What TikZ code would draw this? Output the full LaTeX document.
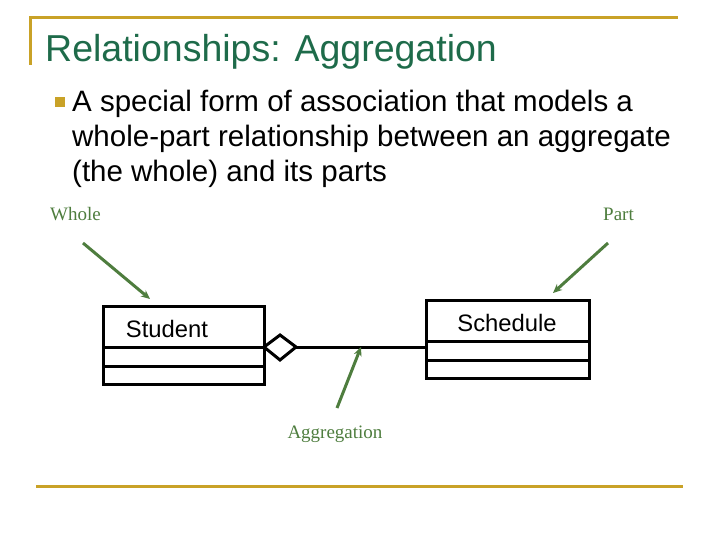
\documentclass[tikz,border=0pt]{standalone}
\usepackage{fontspec}
\setmainfont{Liberation Serif}
\newfontfamily\arialfont{Liberation Sans}
\usetikzlibrary{arrows.meta}
\definecolor{gold}{HTML}{C9A227}
\definecolor{titlegreen}{HTML}{1E6B4A}
\definecolor{labelgreen}{HTML}{4E7D3E}
\tikzset{
  rule/.style={draw=gold, line width=3pt},
  cls/.style={draw=black, line width=3pt},
  pointer/.style={draw=labelgreen, line width=3pt, -{Stealth[length=9pt,width=8pt]}},
  lbl/.style={text=labelgreen, font=\fontsize{19}{21}\selectfont, inner sep=0pt},
  bodytext/.style={anchor=base west, inner sep=0pt, font=\arialfont\fontsize{29.5}{35}\selectfont},
  clsname/.style={font=\arialfont\fontsize{23.8}{26}\selectfont},
}
\begin{document}
\begin{tikzpicture}[x=1pt,y=-1pt]
\useasboundingbox (0,0) rectangle (720,540);
% frame rules
\draw[rule] (30,65) -- (30,18) -- (678,18);
\draw[rule] (36,486) -- (683,486);
% title
\node[anchor=base west, inner sep=0pt, text=titlegreen, font=\arialfont\fontsize{37.5}{40}\selectfont] (title) at (45,62) {Relationships: Aggregation};
% bullet
\node[fill=gold, minimum size=10pt, inner sep=0pt, anchor=center] (bullet) at (60,102) {};
\node[bodytext] (body1) at (72,112) {A special form of association that models a};
\node[bodytext] (body2) at (72,147) {whole-part relationship between an aggregate};
\node[bodytext] (body3) at (72,182) {(the whole) and its parts};
% classes
\draw[cls] (103,306) rectangle (264,384);
\draw[cls] (103,347) -- (264,347);
\draw[cls] (103,366) -- (264,366);
\node[clsname] (student) at (167,329) {Student};
\draw[cls] (426,300) rectangle (589,378);
\draw[cls] (426,341) -- (589,341);
\draw[cls] (426,360) -- (589,360);
\node[clsname] (schedule) at (507,323) {Schedule};
\coordinate (sl) at (264,347);
\coordinate (sr) at (426,347);
\draw[cls, line join=miter] (sl) -- (280,335) -- (296,347) -- (280,360) -- cycle;
\draw[cls] (296,347) -- (sr);
% labels
\node[lbl, anchor=base west] (whole) at (50,221) {Whole};
\node[lbl, anchor=base east] (part) at (634,221) {Part};
\node[lbl, anchor=base] (agg) at (335,438) {Aggregation};
\coordinate (w1) at (83,243);
\coordinate (w2) at (150,299);
\coordinate (p1) at (608,243);
\coordinate (p2) at (553,293);
\coordinate (a1) at (337,408);
\coordinate (a2) at (361,347);
\draw[pointer] (w1) -- (w2);
\draw[pointer] (p1) -- (p2);
\draw[pointer] (a1) -- (a2);
\end{tikzpicture}
\end{document}
